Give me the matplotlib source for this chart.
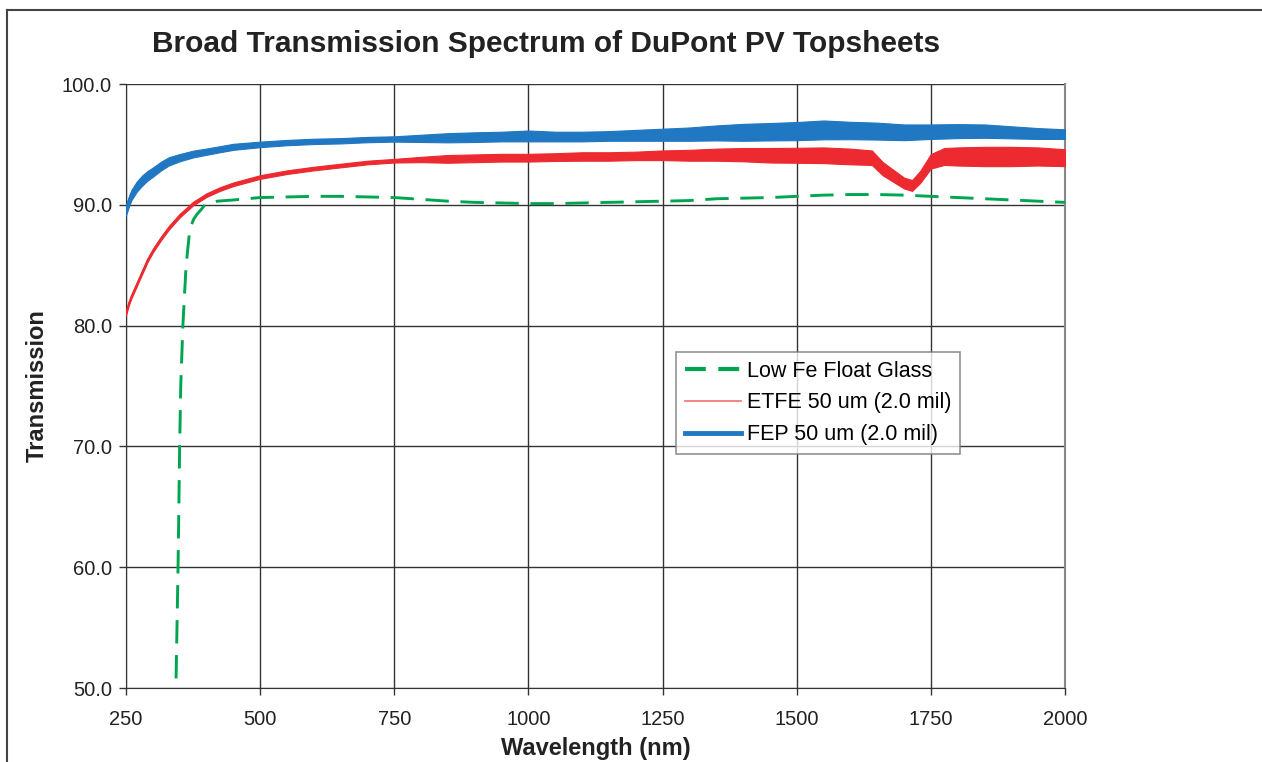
import matplotlib
matplotlib.use('Agg')
import matplotlib.pyplot as plt
import numpy as np
from matplotlib.lines import Line2D

plt.rcParams['font.family'] = ['Liberation Sans', 'DejaVu Sans']

# FEP 50 um (blue): centre of the noisy trace and half-width of the band
fep_wl = [250, 255, 260, 270, 280, 290, 300, 315, 330, 350, 375, 400, 425, 450, 475,
          500, 550, 600, 650, 700, 750, 800, 850, 900, 950, 1000, 1050, 1100, 1150,
          1200, 1250, 1300, 1350, 1400, 1450, 1500, 1550, 1600, 1650, 1700, 1750,
          1800, 1850, 1900, 1950, 2000]
fep_t = [89.5, 90.2, 90.8, 91.5, 92.0, 92.4, 92.7, 93.2, 93.6, 93.9, 94.2, 94.4, 94.6,
         94.8, 94.9, 95.0, 95.15, 95.25, 95.3, 95.4, 95.45, 95.5, 95.55, 95.6, 95.65,
         95.7, 95.65, 95.65, 95.7, 95.75, 95.8, 95.85, 95.95, 96.0, 96.05, 96.1, 96.2,
         96.15, 96.1, 96.0, 96.05, 96.1, 96.1, 96.0, 95.9, 95.85]
fep_spread = [0.38, 0.4, 0.42, 0.42, 0.42, 0.4, 0.38, 0.36, 0.34, 0.3, 0.28, 0.26, 0.25,
              0.25, 0.24, 0.23, 0.22, 0.22, 0.22, 0.22, 0.22, 0.3, 0.38, 0.4, 0.4,
              0.45, 0.4, 0.4, 0.4, 0.45, 0.5, 0.55, 0.62, 0.7, 0.72, 0.75, 0.78, 0.72,
              0.7, 0.65, 0.6, 0.58, 0.55, 0.5, 0.45, 0.4]

# ETFE 50 um (red)
etfe_wl = [250, 255, 260, 270, 280, 290, 300, 315, 330, 350, 375, 400, 425, 450, 475,
           500, 550, 600, 650, 700, 750, 800, 850, 900, 950, 1000, 1050, 1100, 1150,
           1200, 1250, 1300, 1350, 1400, 1450, 1500, 1550, 1600, 1640, 1660, 1680,
           1700, 1715, 1730, 1750, 1775, 1800, 1850, 1900, 1950, 2000]
etfe_t = [81.0, 81.8, 82.4, 83.4, 84.4, 85.4, 86.2, 87.2, 88.1, 89.1, 90.1, 90.8, 91.3,
          91.7, 92.0, 92.3, 92.7, 93.0, 93.25, 93.5, 93.65, 93.75, 93.8, 93.85, 93.9,
          93.9, 93.95, 94.0, 94.0, 94.05, 94.1, 94.1, 94.15, 94.15, 94.1, 94.1, 94.1,
          94.0, 93.9, 93.0, 92.4, 91.8, 91.6, 92.3, 93.6, 94.0, 94.0, 94.0, 94.0,
          94.0, 93.9]
etfe_spread = [0.15, 0.15, 0.15, 0.15, 0.15, 0.15, 0.15, 0.15, 0.15, 0.15, 0.15, 0.15,
               0.15, 0.15, 0.15, 0.15, 0.15, 0.15, 0.15, 0.15, 0.15, 0.22, 0.32, 0.32,
               0.32, 0.32, 0.32, 0.35, 0.35, 0.35, 0.4, 0.45, 0.5, 0.55, 0.6, 0.62,
               0.65, 0.65, 0.6, 0.55, 0.5, 0.45, 0.45, 0.5, 0.6, 0.7, 0.75, 0.8, 0.8,
               0.75, 0.7]

# Low Fe float glass (green)
glass_wl = [340, 343, 347, 350, 352, 356, 362, 369, 376, 382, 390, 397, 420, 450, 500,
            550, 600, 650, 700, 750, 800, 850, 900, 950, 1000, 1050, 1100, 1150, 1200,
            1250, 1300, 1350, 1400, 1450, 1500, 1550, 1600, 1650, 1700, 1750, 1800,
            1850, 1900, 1950, 2000]
glass_t = [45.0, 50.0, 60.0, 70.0, 75.0, 80.0, 85.0, 88.0, 88.8, 89.2, 89.6, 90.0, 90.3,
           90.4, 90.6, 90.65, 90.7, 90.7, 90.65, 90.6, 90.45, 90.3, 90.2, 90.15, 90.1,
           90.1, 90.15, 90.2, 90.25, 90.3, 90.35, 90.5, 90.55, 90.6, 90.7, 90.8, 90.85,
           90.85, 90.8, 90.7, 90.6, 90.5, 90.4, 90.3, 90.2]

x_ticks = [250, 500, 750, 1000, 1250, 1500, 1750, 2000]
y_ticks = [50, 60, 70, 80, 90, 100]
labels = ['Low Fe Float Glass', 'ETFE 50 um (2.0 mil)', 'FEP 50 um (2.0 mil)']

BLUE = '#1f78c1'
RED = '#ec2a30'
GREEN = '#00a64f'

fig = plt.figure(figsize=(12.62, 7.62), dpi=100)
ax = fig.add_axes([126/1262, 74/762, 939/1262, 604/762])

fep_t = np.array(fep_t); fep_spread = np.array(fep_spread)
etfe_t = np.array(etfe_t); etfe_spread = np.array(etfe_spread)

ax.plot(glass_wl, glass_t, color=GREEN, lw=2.1, dashes=(8, 4), zorder=3)
ax.fill_between(etfe_wl, etfe_t - etfe_spread, etfe_t + etfe_spread, color=RED, lw=0.8, zorder=4)
ax.plot(etfe_wl, etfe_t, color=RED, lw=1.2, zorder=4)
ax.fill_between(fep_wl, fep_t - fep_spread, fep_t + fep_spread, color=BLUE, lw=0.8, zorder=5)
ax.plot(fep_wl, fep_t, color=BLUE, lw=2.5, zorder=5)

ax.set_xlim(250, 2000)
ax.set_ylim(50, 100)
ax.set_xticks(x_ticks)
ax.set_yticks(y_ticks)
ax.set_yticklabels(['%.1f' % v for v in y_ticks])
ax.grid(True, color='#333333', lw=1.0)
ax.set_axisbelow(True)
ax.tick_params(direction='out', length=5, width=1, color='#333333', labelsize=14.5,
               labelcolor='#222222')
ax.tick_params(axis='y', pad=5)
ax.tick_params(axis='x', pad=11)
for s in ['left', 'bottom']:
    ax.spines[s].set_color('#333333')
ax.spines['top'].set_visible(False)
ax.spines['right'].set_color('#888888')
ax.spines['right'].set_linewidth(1.5)

handles = [Line2D([], [], color=GREEN, lw=3, dashes=(5, 3)),
           Line2D([], [], color='#f07070', lw=1.2),
           Line2D([], [], color=BLUE, lw=3.5)]
leg = ax.legend(handles, labels, loc='upper left', bbox_to_anchor=(0.5857, 0.5563),
                fontsize=15.5, frameon=True, fancybox=False, handlelength=2.6,
                handletextpad=0.28, borderpad=0.4, labelspacing=0.5, borderaxespad=0)
leg.get_frame().set_edgecolor('#777777')
leg.get_frame().set_linewidth(1.2)

fig.text(546/1262, 1 - 44/762, 'Broad Transmission Spectrum of DuPont PV Topsheets',
         ha='center', va='center', fontsize=21.5, fontweight='bold', color='#222222')
fig.text(596/1262, 1 - 748/762, 'Wavelength (nm)', ha='center', va='center',
         fontsize=17, fontweight='bold', color='#222222')
fig.text(37/1262, 1 - 386/762, 'Transmission', ha='center', va='center', rotation=90,
         fontsize=17, fontweight='bold', color='#222222')

# outer frame of the figure (top and left edges only are visible)
fig.add_artist(Line2D([7/1262, 7/1262], [0, 1 - 10/762], color='#444444', lw=1.5))
fig.add_artist(Line2D([7/1262, 1], [1 - 10/762, 1 - 10/762], color='#444444', lw=1.5))

fig.savefig('out.png', dpi=100)
